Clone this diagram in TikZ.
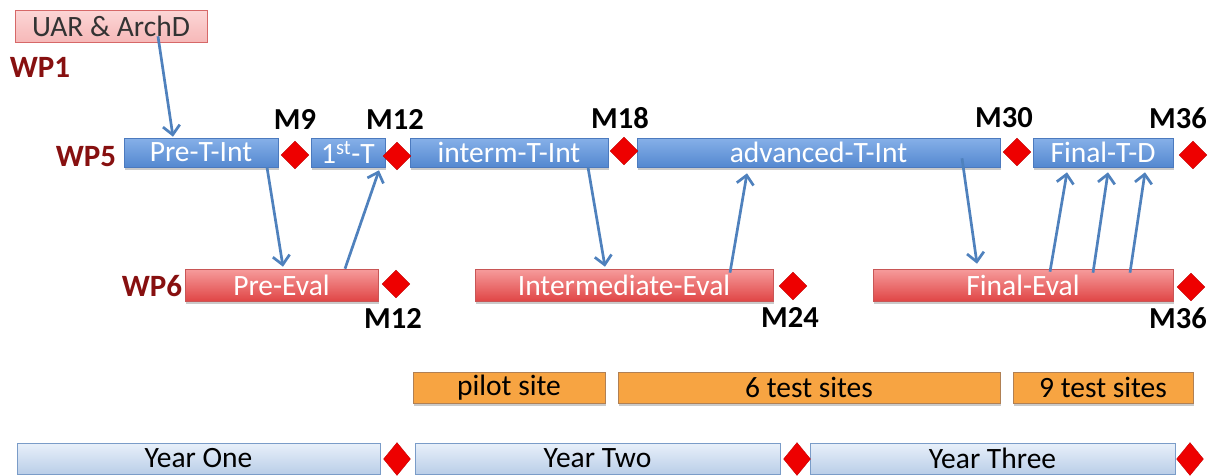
\documentclass[tikz,border=0pt]{standalone}
\usepackage{fontspec}
\setmainfont{Carlito}
\usetikzlibrary{shapes.geometric,arrows.meta,shadows}

\definecolor{blueTop}{RGB}{134,176,232}
\definecolor{blueBot}{RGB}{84,136,208}
\definecolor{blueLine}{RGB}{76,122,190}
\definecolor{redTop}{RGB}{246,156,156}
\definecolor{redBot}{RGB}{224,70,70}
\definecolor{redLine}{RGB}{200,86,86}
\definecolor{pinkTop}{RGB}{252,214,214}
\definecolor{pinkBot}{RGB}{246,184,184}
\definecolor{pinkLine}{RGB}{214,104,104}
\definecolor{orangeFill}{RGB}{247,164,66}
\definecolor{orangeLine}{RGB}{176,128,84}
\definecolor{yearTop}{RGB}{232,240,250}
\definecolor{yearBot}{RGB}{186,206,232}
\definecolor{yearLine}{RGB}{122,156,200}
\definecolor{arrowBlue}{RGB}{79,129,189}
\definecolor{wpRed}{RGB}{135,16,16}
\definecolor{msRed}{RGB}{238,0,0}

\tikzset{
  bar/.style={rectangle, inner sep=0pt, anchor=center,
    font=\fontsize{29.5}{32}\selectfont},
  softshadow/.style={drop shadow={shadow xshift=0.5pt, shadow yshift=-2.5pt,
    opacity=0.35, fill=black!60}},
  wpfive/.style={bar, softshadow, minimum height=29pt, top color=blueTop,
    bottom color=blueBot, draw=blueLine, line width=0.6pt, text=white},
  wpsix/.style={bar, softshadow, minimum height=32pt, top color=redTop,
    bottom color=redBot, draw=redLine, line width=0.6pt, text=white},
  wpone/.style={bar, minimum height=32pt, top color=pinkTop,
    bottom color=pinkBot, draw=pinkLine, line width=0.6pt, text=black!80},
  sitebox/.style={bar, softshadow, minimum height=31pt, fill=orangeFill,
    draw=orangeLine, line width=0.6pt, text=black},
  yearbox/.style={bar, minimum height=31pt, top color=yearTop,
    bottom color=yearBot, draw=yearLine, line width=0.8pt, text=black},
  milestone/.style={diamond, fill=msRed, draw=msRed!80!black, line width=0.3pt,
    inner sep=0pt, minimum width=28pt, minimum height=28pt},
  yearstone/.style={milestone, minimum width=27pt, minimum height=33pt},
  mlabel/.style={font=\bfseries\fontsize{30.5}{32}\selectfont, text=black, inner sep=0pt},
  wplabel/.style={font=\bfseries\fontsize{31}{33}\selectfont, text=wpRed, inner sep=0pt},
  flow/.style={draw=arrowBlue, line width=2.7pt,
    -{Straight Barb[length=9pt,width=17pt,line width=2.7pt]}},
}

\begin{document}
\begin{tikzpicture}[x=1pt,y=-1pt]
\useasboundingbox (0,0) rectangle (1210,475);

% work package labels
\node[wplabel] (wp1) at (40,67) {WP1};
\node[wplabel] (wp5) at (86,157) {WP5};
\node[wplabel] (wp6) at (152,286) {WP6};

% WP1 task
\node[wpone, minimum width=192pt] (uar) at (111,26) {UAR \& ArchD};

% WP5 tasks
\node[wpfive, minimum width=154pt] (pret) at (201,152.5) {Pre-T-Int};
\node[wpfive, minimum width=74pt]  (first) at (348,152.5) {1\textsuperscript{st}-T};
\node[wpfive, minimum width=198pt] (intt) at (509,152.5) {interm-T-Int};
\node[wpfive, minimum width=363pt] (adv) at (818.5,152.5) {advanced-T-Int};
\node[wpfive, minimum width=140pt] (fintd) at (1103,152.5) {Final-T-D};

% WP6 tasks
\node[wpsix, minimum width=193pt] (preeval) at (281.5,285) {Pre-Eval};
\node[wpsix, minimum width=298pt] (inteval) at (624,285) {Intermediate-Eval};
\node[wpsix, minimum width=300pt] (fineval) at (1023,285) {Final-Eval};

% milestones on the WP5 row
\node[milestone] (d9)  at (295,155) {};
\node[milestone] (d12) at (397,156) {};
\node[milestone] (d18) at (624,151) {};
\node[milestone] (d30) at (1017,152) {};
\node[milestone] (d36) at (1193,155) {};
\node[mlabel] (m9)  at (295,119) {M9};
\node[mlabel] (m12) at (395,119) {M12};
\node[mlabel] (m18) at (620,118) {M18};
\node[mlabel] (m30) at (1004,118) {M30};
\node[mlabel, anchor=east] (m36) at (1207,118) {M36};

% milestones on the WP6 row
\node[milestone] (e12) at (396,284) {};
\node[milestone] (e24) at (793,286) {};
\node[milestone] (e36) at (1191,287) {};
\node[mlabel] (n12) at (393,318) {M12};
\node[mlabel] (n24) at (790,317) {M24};
\node[mlabel, anchor=east] (n36) at (1207,318) {M36};

% test sites
\node[sitebox, minimum width=192pt] (pilot) at (509,387.5) {pilot site};
\node[sitebox, minimum width=382pt] (six) at (809,387.5) {6 test sites};
\node[sitebox, minimum width=180pt] (nine) at (1103,387.5) {9 test sites};

% project years
\node[yearbox, minimum width=363pt] (y1) at (198.5,458.5) {Year One};
\node[yearbox, minimum width=365pt] (y2) at (597.5,458.5) {Year Two};
\node[yearbox, minimum width=365pt] (y3) at (992.5,458.5) {Year Three};
\node[yearstone] (yd1) at (397,459) {};
\node[yearstone] (yd2) at (797,459) {};
\node[yearstone] (yd3) at (1190,459) {};

% dependencies
\draw[flow] ([xshift=47pt,yshift=6pt]uar.south) -- ([xshift=-28pt,yshift=1pt]pret.north);
\draw[flow] ([xshift=66pt]pret.south) -- ([xshift=1.5pt,yshift=2pt]preeval.north);
\draw[flow] ([xshift=63.5pt]preeval.north) -- ([xshift=31pt,yshift=-3pt]first.south);
\draw[flow] ([xshift=79pt]intt.south) -- ([xshift=-19pt,yshift=2pt]inteval.north);
\draw[flow] ([xshift=106pt,yshift=-4pt]inteval.north) -- ([xshift=-71.5pt,yshift=-6pt]adv.south);
\draw[flow] ([xshift=143.5pt,yshift=9pt]adv.south) -- ([xshift=-46pt,yshift=5pt]fineval.north);
\draw[flow] ([xshift=27pt,yshift=-3pt]fineval.north) -- ([xshift=-36pt,yshift=-5pt]fintd.south);
\draw[flow] ([xshift=70pt,yshift=-4pt]fineval.north) -- ([xshift=5pt,yshift=-5pt]fintd.south);
\draw[flow] ([xshift=107pt,yshift=-4pt]fineval.north) -- ([xshift=42pt,yshift=-5pt]fintd.south);
\end{tikzpicture}
\end{document}
